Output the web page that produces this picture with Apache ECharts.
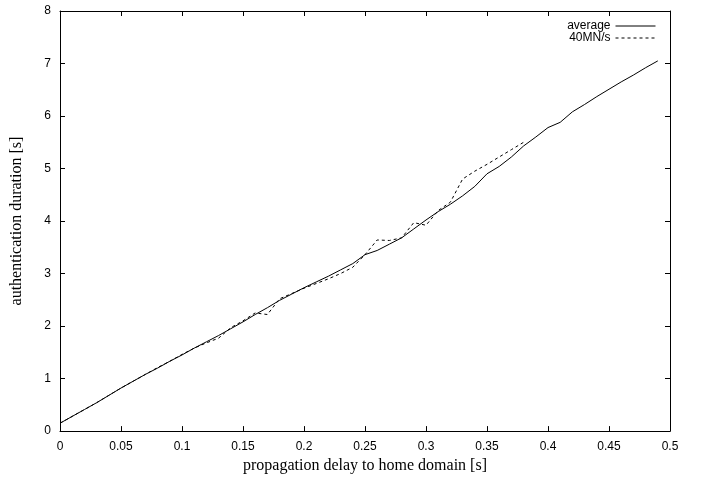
<!DOCTYPE html>
<html>
<head>
<meta charset="utf-8">
<script src="https://cdn.jsdelivr.net/npm/echarts@6/dist/echarts.min.js"></script>
<style>html,body{margin:0;padding:0;background:#fff;}#c{width:708px;height:479px;}</style>
</head>
<body>
<div id="c"></div>
<script>
var avgX = [0,0.01,0.02,0.03,0.04,0.05,0.06,0.07,0.08,0.09,0.10,0.11,0.12,0.13,0.14,0.15,0.16,0.17,0.18,0.19,0.20,0.21,0.22,0.23,0.24,0.25,0.26,0.27,0.28,0.29,0.30,0.31,0.32,0.33,0.34,0.35,0.36,0.37,0.38,0.39,0.40,0.41,0.42,0.43,0.44,0.45,0.46,0.47,0.48,0.49];
var avgY = [0.15,0.28,0.41,0.54,0.68,0.82,0.95,1.08,1.20,1.33,1.45,1.58,1.70,1.82,1.95,2.08,2.22,2.35,2.49,2.61,2.73,2.84,2.95,3.07,3.19,3.36,3.44,3.56,3.68,3.85,4.02,4.18,4.32,4.48,4.66,4.90,5.04,5.22,5.43,5.60,5.78,5.88,6.08,6.22,6.37,6.51,6.65,6.78,6.92,7.05];
var mnX = [0,0.01,0.02,0.03,0.04,0.05,0.06,0.07,0.08,0.09,0.10,0.11,0.12,0.13,0.14,0.15,0.16,0.17,0.18,0.19,0.20,0.21,0.22,0.23,0.24,0.25,0.26,0.27,0.28,0.29,0.30,0.31,0.32,0.33,0.34,0.35,0.36,0.37,0.38];
var mnY = [0.15,0.28,0.41,0.54,0.68,0.82,0.95,1.08,1.21,1.33,1.46,1.58,1.68,1.77,1.97,2.10,2.25,2.22,2.52,2.62,2.72,2.81,2.90,3.00,3.12,3.36,3.64,3.63,3.68,3.97,3.92,4.20,4.36,4.80,4.95,5.08,5.22,5.36,5.50];
var seriesNames = ['average','40MN/s'];
var xTitle = 'propagation delay to home domain [s]';
var yTitle = 'authentication duration [s]';

function pairs(xs, ys){ return xs.map(function(x,i){ return [x, ys[i]]; }); }

var chart = echarts.init(document.getElementById('c'), null, {renderer:'canvas'});
var axisLine = {show:true, onZero:false, lineStyle:{color:'#000', width:1}};
var tickIn = {show:true, inside:true, length:5, lineStyle:{color:'#000', width:1}};
var lblFont = {color:'#000', fontFamily:'Liberation Sans', fontSize:12};
chart.setOption({
  animation:false,
  backgroundColor:'#fff',
  grid:{left:60, right:38, top:11, bottom:45, containLabel:false},
  legend:{
    orient:'vertical', right:52, top:20, align:'right',
    itemWidth:40, itemHeight:10, itemGap:0, padding:0,
    itemStyle:{opacity:0},
    lineStyle:{width:1, color:'#000'},
    textStyle:{color:'#000', fontFamily:'Liberation Sans', fontSize:12, width:50, align:'right', lineHeight:12},
    data:seriesNames
  },
  xAxis:[
    {type:'value', min:0, max:0.5, interval:0.05, position:'bottom',
     axisLine:axisLine, axisTick:tickIn, splitLine:{show:false},
     axisLabel:Object.assign({margin:10, formatter:function(v){ return String(+v.toFixed(2)); }}, lblFont),
     name:xTitle, nameLocation:'middle', nameGap:20,
     nameTextStyle:{color:'#000', fontFamily:'Liberation Serif', fontSize:16}},
    {type:'value', min:0, max:0.5, interval:0.05, position:'top',
     axisLine:axisLine, axisTick:tickIn, splitLine:{show:false}, axisLabel:{show:false}}
  ],
  yAxis:[
    {type:'value', min:0, max:8, interval:1, position:'left',
     axisLine:axisLine, axisTick:tickIn, splitLine:{show:false},
     axisLabel:Object.assign({margin:9}, lblFont),
     name:yTitle, nameLocation:'middle', nameGap:35,
     nameTextStyle:{color:'#000', fontFamily:'Liberation Serif', fontSize:16}},
    {type:'value', min:0, max:8, interval:1, position:'right',
     axisLine:axisLine, axisTick:tickIn, splitLine:{show:false}, axisLabel:{show:false}}
  ],
  series:[
    {name:seriesNames[0], type:'line', xAxisIndex:0, yAxisIndex:0, data:pairs(avgX, avgY),
     showSymbol:false, symbol:'none', lineStyle:{color:'#000', width:1, type:'solid'}, itemStyle:{color:'#000'}},
    {name:seriesNames[1], type:'line', xAxisIndex:0, yAxisIndex:0, data:pairs(mnX, mnY),
     showSymbol:false, symbol:'none', lineStyle:{color:'#000', width:1, type:[3,3]}, itemStyle:{color:'#000'}}
  ]
});
</script>
</body>
</html>
